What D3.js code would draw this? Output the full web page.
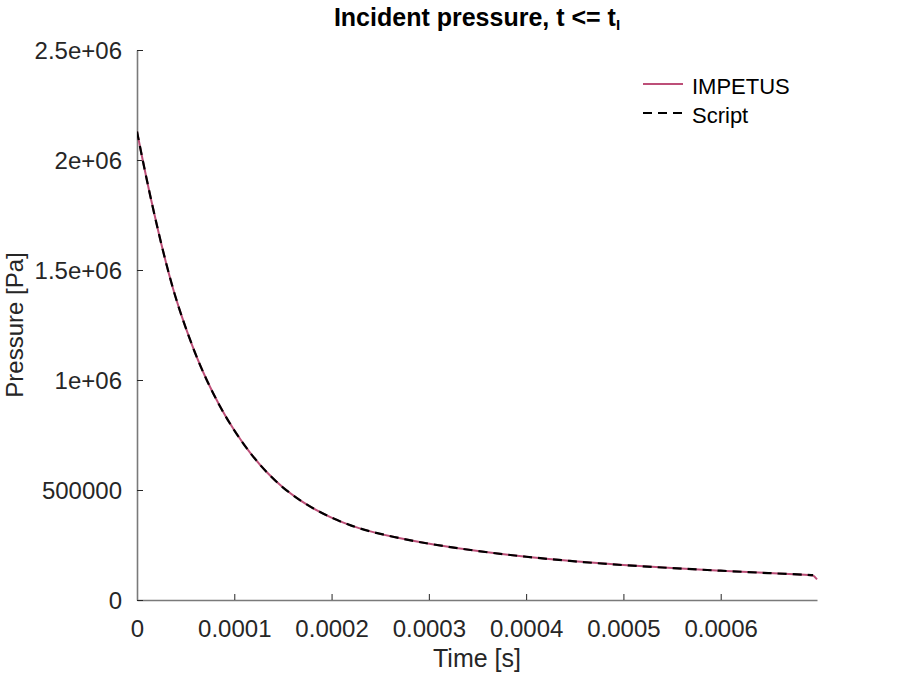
<!DOCTYPE html>
<html>
<head>
<meta charset="utf-8">
<script src="https://cdn.jsdelivr.net/npm/d3@7"></script>
<style>
  html, body { margin: 0; padding: 0; background: #fff; }
  svg { display: block; font-family: "Liberation Sans", Arial, sans-serif; }
</style>
</head>
<body>
<div id="chart"></div>
<script>
// ---- data ----
const timeImpetus = [0, 0.000006, 0.000014, 0.000022, 0.000030, 0.000039, 0.000048, 0.000059, 0.000071, 0.000085, 0.000099, 0.000116, 0.000133, 0.000150, 0.000168, 0.000185, 0.000202, 0.000220, 0.000236, 0.000270, 0.000300, 0.000351, 0.000400, 0.000450, 0.000500, 0.000550, 0.000600, 0.000650, 0.000693, 0.000695, 0.000699];
const pressImpetus = [2130000, 1995000, 1828000, 1672000, 1528000, 1382000, 1262000, 1128000, 1003000, 880000, 775000, 668000, 580000, 509000, 451000, 406000, 369000, 338000, 315000, 280000, 255000, 221000, 196000, 175000, 158000, 145000, 133000, 122000, 114000, 113000, 94000];
const timeScript = [0, 0.000006, 0.000014, 0.000022, 0.000030, 0.000039, 0.000048, 0.000059, 0.000071, 0.000085, 0.000099, 0.000116, 0.000133, 0.000150, 0.000168, 0.000185, 0.000202, 0.000220, 0.000236, 0.000270, 0.000300, 0.000351, 0.000400, 0.000450, 0.000500, 0.000550, 0.000600, 0.000650, 0.000693, 0.000695];
const pressScript = [2130000, 1995000, 1828000, 1672000, 1528000, 1382000, 1262000, 1128000, 1003000, 880000, 775000, 668000, 580000, 509000, 451000, 406000, 369000, 338000, 315000, 280000, 255000, 221000, 196000, 175000, 158000, 145000, 133000, 122000, 114000, 113000];
const xTicks = [0, 0.0001, 0.0002, 0.0003, 0.0004, 0.0005, 0.0006];
const xTickLabels = ["0", "0.0001", "0.0002", "0.0003", "0.0004", "0.0005", "0.0006"];
const yTicks = [0, 500000, 1000000, 1500000, 2000000, 2500000];
const yTickLabels = ["0", "500000", "1e+06", "1.5e+06", "2e+06", "2.5e+06"];
const seriesNames = ["IMPETUS", "Script"];
const xDomain = [0, 0.000699];
const yDomain = [0, 2500000];

// ---- layout ----
const W = 902, H = 673;
const L = 137, R = 817, T = 50, B = 600;
const textColor = "#262626";
const pink = "#bd4f78";

const svg = d3.select("#chart").append("svg").attr("width", W).attr("height", H);

const x = d3.scaleLinear().domain(xDomain).range([L, R]);
const y = d3.scaleLinear().domain(yDomain).range([B, T]);

svg.append("defs").append("clipPath").attr("id", "clip")
  .append("rect").attr("x", L).attr("y", T).attr("width", R - L + 1).attr("height", B - T);

// axes
const xAxis = svg.append("g").attr("transform", `translate(0,${B})`)
  .call(d3.axisBottom(x).tickValues(xTicks).tickFormat((d, i) => xTickLabels[i]).tickSizeInner(-6).tickSizeOuter(0).tickPadding(20));
const yAxis = svg.append("g").attr("transform", `translate(${L},0)`)
  .call(d3.axisLeft(y).tickValues(yTicks).tickFormat((d, i) => yTickLabels[i]).tickSizeInner(-6).tickSizeOuter(0).tickPadding(15));

[xAxis, yAxis].forEach(g => {
  g.select(".domain").attr("stroke", "#7a7a7a").attr("stroke-width", 1.6);
  g.selectAll(".tick line").attr("stroke", textColor).attr("stroke-width", 1);
  g.selectAll(".tick text").attr("fill", textColor).attr("font-size", 24)
    .attr("font-family", "'Liberation Sans', Arial, sans-serif");
});
xAxis.selectAll(".tick text").attr("dy", "0.71em");
yAxis.selectAll(".tick text").attr("dy", "0.35em");

// lines
const line = d3.line().x(d => x(d[0])).y(d => y(d[1])).curve(d3.curveBasis);
const dImp = timeImpetus.map((t, i) => [t, pressImpetus[i]]);
const dScr = timeScript.map((t, i) => [t, pressScript[i]]);
const plot = svg.append("g").attr("clip-path", "url(#clip)");
plot.append("path").attr("d", line(dImp)).attr("fill", "none").attr("stroke", pink).attr("stroke-width", 2);
plot.append("path").attr("d", line(dScr)).attr("fill", "none").attr("stroke", "#000").attr("stroke-width", 2.2)
  .attr("stroke-dasharray", "9,6");

// title
const title = svg.append("text").attr("x", (L + R) / 2).attr("y", 26).attr("text-anchor", "middle")
  .attr("font-weight", "bold").attr("font-size", 25).attr("fill", "#000");
title.append("tspan").text("Incident pressure, t <= t");
title.append("tspan").attr("font-size", 15).attr("dy", 4).text("I");

// axis labels
svg.append("text").attr("x", (L + R) / 2).attr("y", 667).attr("text-anchor", "middle")
  .attr("font-size", 25).attr("fill", textColor).text("Time [s]");
svg.append("text").attr("transform", `translate(23,${(T + B) / 2}) rotate(-90)`).attr("text-anchor", "middle")
  .attr("font-size", 24).attr("fill", textColor).text("Pressure [Pa]");

// legend
const leg = svg.append("g");
const legY = [84, 113];
leg.append("line").attr("x1", 643).attr("x2", 683).attr("y1", legY[0]).attr("y2", legY[0])
  .attr("stroke", pink).attr("stroke-width", 2);
leg.append("line").attr("x1", 643).attr("x2", 683).attr("y1", legY[1]).attr("y2", legY[1])
  .attr("stroke", "#000").attr("stroke-width", 2.2).attr("stroke-dasharray", "9,6");
seriesNames.forEach((n, i) => {
  leg.append("text").attr("x", 692).attr("y", legY[i] + 2).attr("dy", "0.35em")
    .attr("font-size", 22).attr("fill", "#000").text(n);
});
</script>
</body>
</html>
